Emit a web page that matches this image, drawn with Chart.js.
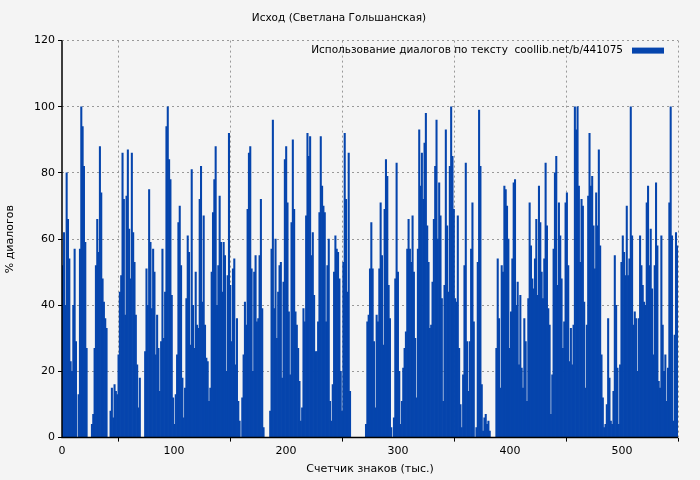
<!DOCTYPE html>
<html><head><meta charset="utf-8">
<script src="https://cdn.jsdelivr.net/npm/chart.js@4"></script>
<style>body{margin:0;background:#f4f4f4}#wrap{width:700px;height:480px}</style>
</head><body><div id="wrap"><canvas id="c"></canvas></div>
<script>
// values, left to right, roughly one per 1.2 thousand characters
let part1 = [52,62,40,80,66,54,23,20,40,57,29,0,13,57,100,94,82,59,27,0,0,0,4,7,27,52,66,56,88,74,48,41,36,33,0,0,8,15,6,16,14,13,25,44,49,86,72,37,73,87,63,48,86,62,53,37,22,9,18,0,0,0,26,51,40,75,59,39,57,50,25,37,27,14,29,57,30,44,94,100,84,78,43,12,4,13,25,65,70,52,18,6,15,42,61,56,28,81,40,27,50,34,33,72,82,41,67,34,24,23,11,15,50,68,78];
let part2 = [88,40,52,73,59,44,59,55,20,49,92,46,29,51,54,22,36,11,5,0,12,25,41,34,69,86,88,51,20,50,55,35,36,55,72,39,3,0,0,0,0,8,57,96,39,60,30,44,52,53,18,47,84,88,71,38,19,65,90,69,38,34,27,17,5,9,39,35,67,92,85,91,55,62,43,26,26,35,68,91,76,70,68,35,52,60,11,5,16,50,61,57,56,48,20,8,53,92,72,44,86,14,0,0,0,0,0,0,0,0,0,0,0,4,35,37];
let part3 = [51,65,51,29,9,37,35,51,71,55,28,69,84,79,46,36,3,0,6,48,83,50,20,4,11,21,27,32,57,66,57,53,67,50,30,12,57,93,76,86,72,89,98,64,53,33,34,47,66,82,96,60,77,67,42,11,46,93,64,44,82,100,85,69,42,41,67,27,10,3,19,52,83,29,14,29,57,71,35,0,3,53,99,82,16,2,6,7,4,5,2,0,0,0,0,27,54,36,15,52,50,76,75,70,60,27,38,54,77,78,40,47,22,43,21,15,36];
let part4 = [29,11,42,71,58,48,45,54,66,43,76,65,50,42,54,83,64,39,34,7,19,57,80,85,46,71,61,48,27,35,71,74,52,23,33,22,34,100,93,100,76,53,72,70,41,15,34,73,92,76,79,64,51,74,64,87,58,25,12,3,4,10,36,18,5,4,14,55,40,21,4,22,53,61,56,49,70,49,54,100,61,34,38,36,20,36,61,52,46,41,40,71,76,52,63,45,25,52,77,58,17,15,61,34,20,25,11,21,71,100,61,5,31,62,58];
let dialogValues = part1.concat(part2, part3, part4);
let xTicks = [0,100,200,300,400,500];
let yTicks = [0,20,40,60,80,100,120];

let step = 550 / dialogValues.length;
let points = dialogValues.map((v, i) => ({x: (i + 0.5) * step, y: v}));

let legendPlugin = {
  id: 'legendBox',
  afterDraw(chart){
    let ctx = chart.ctx, a = chart.chartArea;
    ctx.save();
    // axes
    ctx.strokeStyle = '#000';
    ctx.lineWidth = 1.5;
    ctx.beginPath();
    ctx.moveTo(a.left, a.top); ctx.lineTo(a.left, a.bottom); ctx.lineTo(a.right, a.bottom);
    ctx.stroke();
    ctx.font = '10.5px "DejaVu Sans"';
    ctx.fillStyle = '#000';
    ctx.textAlign = 'right';
    ctx.textBaseline = 'middle';
    ctx.fillText('Использование диалогов по тексту  coollib.net/b/441075', a.right - 55, a.top + 10);
    ctx.fillStyle = '#0645ad';
    ctx.fillRect(a.right - 46, a.top + 7, 32, 6);
    ctx.restore();
  }
};

new Chart(document.getElementById('c'), {
  type: 'bar',
  data: {datasets: [{data: points, backgroundColor: '#0645ad', borderWidth: 0,
    barPercentage: 1, categoryPercentage: 1, barThickness: 1.4}]},
  options: {
    responsive: true, maintainAspectRatio: false, animation: false,
    layout: {padding: {top: 0, right: 22, bottom: 0, left: 0}},
    plugins: {
      legend: {display: false}, tooltip: {enabled: false},
      title: {display: true, text: 'Исход (Светлана Гольшанская)', color: '#000',
        font: {family: 'DejaVu Sans', size: 10.5, weight: 'normal'}, padding: {top: 12, bottom: 16}}
    },
    scales: {
      x: {type: 'linear', min: 0, max: 550, offset: false,
        afterBuildTicks: s => { s.ticks = xTicks.map(v => ({value: v})); },
        grid: {color: '#999', drawTicks: true, tickLength: 4, tickColor: '#000'},
        border: {display: false, dash: [2, 3]},
        ticks: {color: '#000', font: {family: 'DejaVu Sans', size: 11}, maxRotation: 0},
        title: {display: true, text: 'Счетчик знаков (тыс.)', color: '#000', font: {family: 'DejaVu Sans', size: 11}, padding: {top: 2}}},
      y: {min: 0, max: 120,
        afterBuildTicks: s => { s.ticks = yTicks.map(v => ({value: v})); },
        afterFit: s => { s.width = 62; },
        grid: {color: '#999', tickLength: 4, tickColor: '#000'},
        border: {display: false, dash: [2, 3]},
        ticks: {color: '#000', font: {family: 'DejaVu Sans', size: 11}},
        title: {display: true, text: '% диалогов', color: '#000', font: {family: 'DejaVu Sans', size: 11}}}
    }
  },
  plugins: [legendPlugin]
});
</script></body></html>
